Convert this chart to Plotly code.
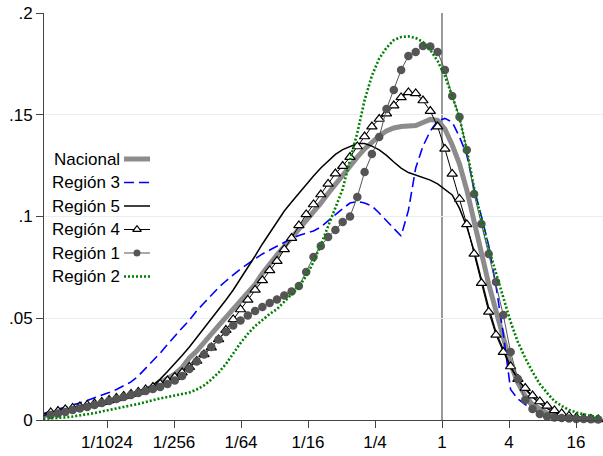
import numpy as np
import plotly.graph_objects as go

# Evaluation grid of the kernel densities: evenly spaced in log2 of the ratio
n_points = 77
log2_first, log2_last = -11.899, 4.663
ratio = 2.0 ** np.linspace(log2_first, log2_last, n_points)

nacional = [
    0.0020, 0.0027, 0.0034, 0.0042, 0.0049, 0.0057, 0.0064, 0.0071, 0.0079, 0.0088,
    0.0098, 0.0108, 0.0118, 0.0130, 0.0147, 0.0162, 0.0182, 0.0204, 0.0226, 0.0258,
    0.0305, 0.0339, 0.0378, 0.0425, 0.0464, 0.0504, 0.0543, 0.0587, 0.0625, 0.0666,
    0.0720, 0.0769, 0.0811, 0.0853, 0.0894, 0.0936, 0.0975, 0.1020, 0.1066, 0.1113,
    0.1160, 0.1206, 0.1251, 0.1292, 0.1332, 0.1366, 0.1396, 0.1420, 0.1435, 0.1442,
    0.1445, 0.1447, 0.1462, 0.1477, 0.1472, 0.1430, 0.1351, 0.1258, 0.1130, 0.0968,
    0.0811, 0.0668, 0.0536, 0.0403, 0.0275, 0.0182, 0.0118, 0.0076, 0.0052, 0.0034,
    0.0025, 0.0017, 0.0012, 0.0008, 0.0006, 0.0004, 0.0003,
]
region3 = [
    0.0032, 0.0042, 0.0052, 0.0061, 0.0071, 0.0084, 0.0096, 0.0108, 0.0120, 0.0135,
    0.0150, 0.0167, 0.0187, 0.0216, 0.0253, 0.0290, 0.0329, 0.0371, 0.0413, 0.0452,
    0.0491, 0.0536, 0.0575, 0.0614, 0.0651, 0.0683, 0.0713, 0.0742, 0.0767, 0.0791,
    0.0816, 0.0835, 0.0855, 0.0875, 0.0892, 0.0907, 0.0919, 0.0929, 0.0948, 0.0978,
    0.1012, 0.1039, 0.1066, 0.1074, 0.1066, 0.1052, 0.1017, 0.0978, 0.0939, 0.0904,
    0.1030, 0.1238, 0.1346, 0.1420, 0.1469, 0.1482, 0.1464, 0.1391, 0.1302, 0.1135,
    0.1002, 0.0855, 0.0658, 0.0423, 0.0150, 0.0103, 0.0076, 0.0054, 0.0034, 0.0020,
    0.0012, 0.0007, 0.0004, 0.0002, 0.0001, 0.0001, 0.0001,
]
region5 = [
    0.0022, 0.0029, 0.0037, 0.0044, 0.0052, 0.0059, 0.0066, 0.0074, 0.0084, 0.0093,
    0.0103, 0.0113, 0.0120, 0.0138, 0.0152, 0.0172, 0.0201, 0.0238, 0.0275, 0.0317,
    0.0359, 0.0405, 0.0452, 0.0494, 0.0541, 0.0590, 0.0639, 0.0693, 0.0749, 0.0806,
    0.0865, 0.0921, 0.0975, 0.1027, 0.1071, 0.1115, 0.1157, 0.1199, 0.1238, 0.1273,
    0.1305, 0.1329, 0.1346, 0.1359, 0.1359, 0.1346, 0.1327, 0.1300, 0.1268, 0.1238,
    0.1216, 0.1204, 0.1194, 0.1179, 0.1160, 0.1133, 0.1106, 0.1040, 0.0950, 0.0830,
    0.0690, 0.0550, 0.0430, 0.0344, 0.0260, 0.0201, 0.0152, 0.0113, 0.0081, 0.0057,
    0.0037, 0.0025, 0.0015, 0.0009, 0.0006, 0.0004, 0.0003,
]
region4 = [
    0.0029, 0.0037, 0.0044, 0.0052, 0.0059, 0.0066, 0.0074, 0.0081, 0.0088, 0.0098,
    0.0108, 0.0118, 0.0128, 0.0138, 0.0150, 0.0162, 0.0177, 0.0194, 0.0211, 0.0233,
    0.0260, 0.0290, 0.0322, 0.0356, 0.0396, 0.0442, 0.0494, 0.0543, 0.0590, 0.0639,
    0.0686, 0.0735, 0.0781, 0.0838, 0.0894, 0.0956, 0.1010, 0.1059, 0.1108, 0.1160,
    0.1211, 0.1248, 0.1292, 0.1344, 0.1393, 0.1442, 0.1479, 0.1506, 0.1545, 0.1585,
    0.1610, 0.1605, 0.1570, 0.1518, 0.1442, 0.1332, 0.1209, 0.1086, 0.0961, 0.0816,
    0.0673, 0.0531, 0.0418, 0.0334, 0.0263, 0.0201, 0.0157, 0.0120, 0.0091, 0.0069,
    0.0047, 0.0032, 0.0020, 0.0012, 0.0007, 0.0005, 0.0003,
]
region1 = [
    0.0017, 0.0025, 0.0032, 0.0039, 0.0049, 0.0057, 0.0064, 0.0074, 0.0084, 0.0093,
    0.0103, 0.0113, 0.0123, 0.0133, 0.0143, 0.0152, 0.0162, 0.0177, 0.0194, 0.0216,
    0.0251, 0.0287, 0.0322, 0.0359, 0.0396, 0.0432, 0.0464, 0.0489, 0.0514, 0.0536,
    0.0555, 0.0575, 0.0592, 0.0612, 0.0631, 0.0658, 0.0727, 0.0801, 0.0855, 0.0899,
    0.0934, 0.0973, 0.1000, 0.1096, 0.1219, 0.1307, 0.1391, 0.1528, 0.1622, 0.1720,
    0.1789, 0.1808, 0.1838, 0.1835, 0.1808, 0.1720, 0.1592, 0.1489, 0.1327, 0.1111,
    0.0963, 0.0816, 0.0678, 0.0516, 0.0334, 0.0201, 0.0098, 0.0054, 0.0029, 0.0017,
    0.0012, 0.0010, 0.0007, 0.0005, 0.0005, 0.0004, 0.0003,
]
region2 = [
    0.0005, 0.0007, 0.0010, 0.0013, 0.0017, 0.0022, 0.0027, 0.0034, 0.0042, 0.0049,
    0.0057, 0.0064, 0.0071, 0.0079, 0.0088, 0.0098, 0.0106, 0.0113, 0.0120, 0.0125,
    0.0135, 0.0150, 0.0170, 0.0199, 0.0233, 0.0275, 0.0327, 0.0378, 0.0423, 0.0462,
    0.0491, 0.0521, 0.0545, 0.0580, 0.0614, 0.0654, 0.0708, 0.0776, 0.0860, 0.0953,
    0.1047, 0.1135, 0.1278, 0.1410, 0.1572, 0.1692, 0.1776, 0.1829, 0.1867, 0.1882,
    0.1885, 0.1877, 0.1857, 0.1818, 0.1764, 0.1690, 0.1592, 0.1484, 0.1327, 0.1140,
    0.0988, 0.0845, 0.0722, 0.0602, 0.0482, 0.0383, 0.0305, 0.0236, 0.0177, 0.0133,
    0.0093, 0.0069, 0.0049, 0.0037, 0.0027, 0.0020, 0.0015,
]

x_tick_vals = [2.0 ** k for k in range(-10, 5, 2)]
x_tick_text = ["1/1024", "1/256", "1/64", "1/16", "1/4", "1", "4", "16"]
y_tick_vals = [0, 0.05, 0.10, 0.15, 0.20]
y_tick_text = ["0", ".05", ".1", ".15", ".2"]
reference_ratio = 1.0

FONT = "Liberation Sans, Arial, Helvetica, sans-serif"

series = [
    ("Nacional", nacional, dict(line=dict(color="#8c8c8c", width=5)), None),
    ("Región 3", region3, dict(line=dict(color="#0000ff", width=1.6, dash="10px,5px")), None),
    ("Región 5", region5, dict(line=dict(color="#000000", width=1.5)), None),
    ("Región 4", region4, dict(line=dict(color="#000000", width=1)),
     dict(symbol="triangle-up", size=9, color="white", line=dict(color="#000000", width=1.2))),
    ("Región 1", region1, dict(line=dict(color="#555555", width=1)),
     dict(symbol="circle", size=8.5, color="#555555")),
    ("Región 2", region2, dict(line=dict(color="#008000", width=2.6, dash="2px,2px")), None),
]

fig = go.Figure()
for name, values, line_style, marker in series:
    if marker is None:
        fig.add_trace(go.Scatter(x=ratio, y=values, name=name, mode="lines", showlegend=False,
                                 hoverinfo="skip", **line_style))
    else:
        fig.add_trace(go.Scatter(x=ratio, y=values, name=name, mode="lines+markers",
                                 marker=marker, showlegend=False, cliponaxis=False,
                                 hoverinfo="skip", **line_style))

# Legend drawn inside the plot: right-aligned labels with keys to their right
key_left, key_right, key_mid, label_right = 124, 150, 137, 122
key_rows = [159, 182.5, 206, 229.5, 253, 276.5]
for (name, _, line_style, marker), row in zip(series, key_rows):
    fig.add_trace(go.Scatter(x=[key_left, key_right], y=[row, row], mode="lines",
                             xaxis="x2", yaxis="y2", showlegend=False, hoverinfo="skip",
                             **line_style))
    if marker is not None:
        fig.add_trace(go.Scatter(x=[key_mid], y=[row], mode="markers",
                                 marker=dict(marker, size=marker["size"] - 1.5),
                                 xaxis="x2", yaxis="y2", showlegend=False,
                                 cliponaxis=False, hoverinfo="skip"))
    fig.add_annotation(x=label_right, y=row, xref="x2", yref="y2", text=name,
                       showarrow=False, xanchor="right", yanchor="middle",
                       font=dict(family=FONT, size=17, color="#000000"))

fig.add_shape(type="line", x0=reference_ratio, x1=reference_ratio, y0=0, y1=1,
              xref="x", yref="paper", layer="below",
              line=dict(color="#808080", width=1.6))

fig.update_layout(
    width=603, height=456,
    margin=dict(l=44, r=0, t=13, b=36),
    paper_bgcolor="white", plot_bgcolor="white",
    font=dict(family=FONT, size=17, color="#000000"),
    hovermode=False,
    xaxis=dict(type="log",
               range=[np.log10(2.0 ** -11.881), np.log10(2.0 ** 4.806)],
               tickmode="array", tickvals=x_tick_vals, ticktext=x_tick_text,
               ticks="outside", ticklen=7, tickwidth=1, tickcolor="#444444",
               showline=True, linecolor="#444444", linewidth=1,
               showgrid=False, zeroline=False,
               tickfont=dict(family=FONT, size=17, color="#000000")),
    yaxis=dict(range=[0, 0.2], tickmode="array", tickvals=y_tick_vals, ticktext=y_tick_text,
               ticks="outside", ticklen=7, tickwidth=1, tickcolor="#444444",
               showline=True, linecolor="#444444", linewidth=1,
               showgrid=True, gridcolor="#e6eef1", gridwidth=1, zeroline=False,
               tickfont=dict(family=FONT, size=17, color="#000000")),
    xaxis2=dict(overlaying="x", anchor="y2", range=[44, 603], visible=False),
    yaxis2=dict(overlaying="y", anchor="x2", range=[420, 13], visible=False),
)

fig.write_html("out.html", config={"displayModeBar": False, "staticPlot": True})
